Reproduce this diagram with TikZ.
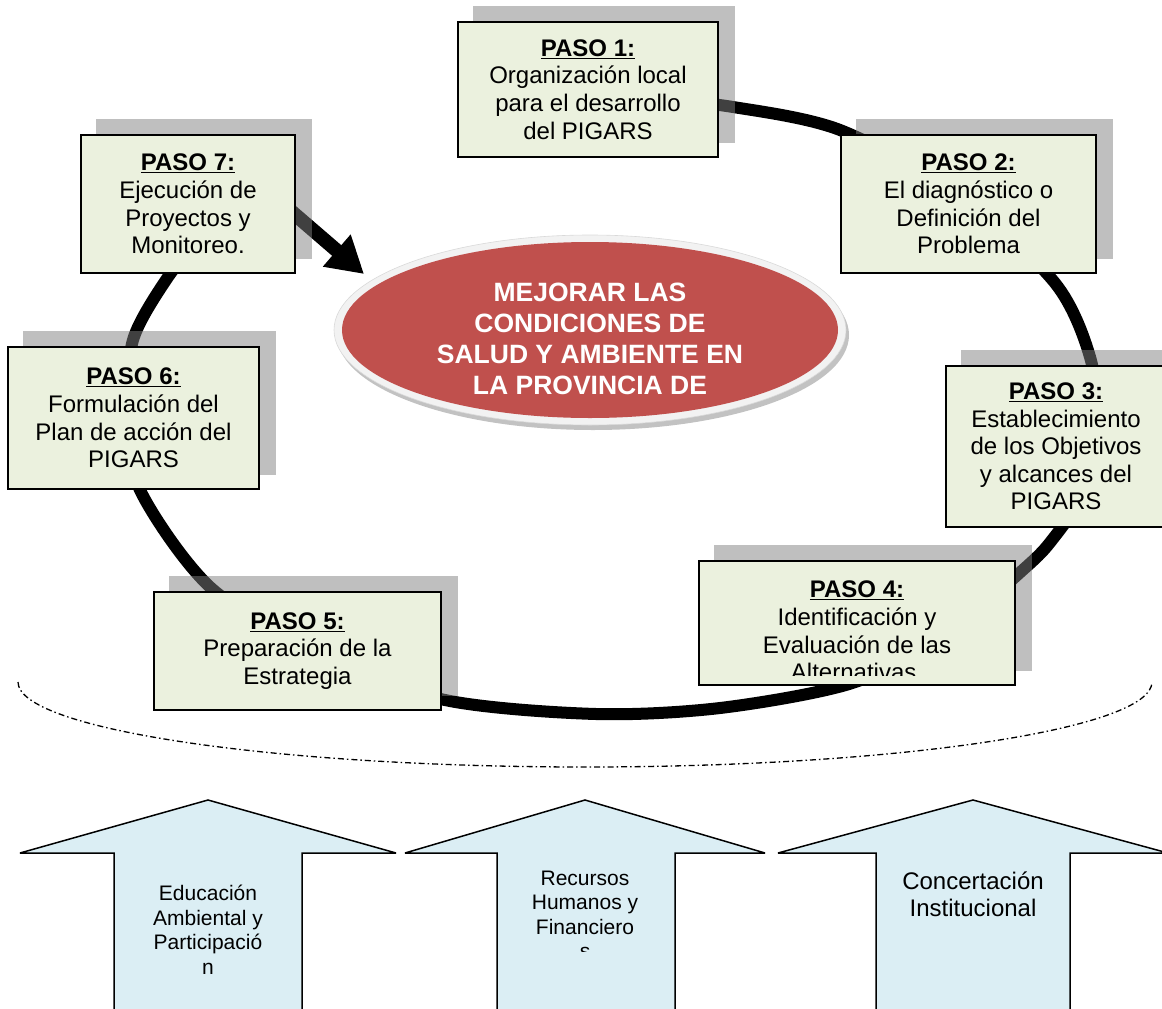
\documentclass[tikz,border=0pt]{standalone}
\usepackage{fontspec}
\setmainfont{Liberation Sans}
\usetikzlibrary{arrows.meta,shapes.geometric}

\definecolor{pasofill}{HTML}{EBF1DE}
\definecolor{metared}{HTML}{C0504D}
\definecolor{apoyofill}{HTML}{DBEEF4}

\pgfdeclarelayer{anillo}
\pgfdeclarelayer{sombras}
\pgfsetlayers{anillo,sombras,main}

\tikzset{
  paso/.style={draw, line width=1.6pt, fill=pasofill, align=center, inner sep=0pt,
    font=\fontsize{24}{27.6}\selectfont},
  sombra/.style={fill=black!50, opacity=0.5},
  anillo/.style={line width=12pt},
  flecha/.style={line width=14pt, -{Triangle[length=36pt,width=40pt]}},
  meta/.style={ellipse, fill=metared, inner sep=0pt, minimum width=496pt, minimum height=176pt},
  metatxt/.style={align=center, text=white, font=\bfseries\fontsize{26.5}{31}\selectfont},
  apoyo/.style={draw, line width=1.5pt, fill=apoyofill, line join=miter, miter limit=3},
  apoyotxt/.style={align=center, font=\fontsize{21}{24.5}\selectfont},
  punteado/.style={line width=1.3pt, dash pattern=on 6pt off 3pt on 1.5pt off 3pt},
}
\newcommand{\pasotit}[1]{\underline{\textbf{PASO #1:}}}
\newcommand{\sombrade}[1]{\fill[sombra] ([shift={(16,-15)}]#1.south west) rectangle ([shift={(16,-15)}]#1.north east);}

\begin{document}
\begin{tikzpicture}[x=1pt,y=-1pt]
\useasboundingbox (0,0) rectangle (1162,1009);

% pasos
\node[paso, minimum width=260pt, minimum height=135pt] (p1) at (588,89.5)
  {\pasotit{1}\\Organización local\\para el desarrollo\\del PIGARS};
\node[paso, minimum width=255pt, minimum height=138pt] (p2) at (968.5,204)
  {\pasotit{2}\\El diagnóstico o\\Definición del\\Problema};
\node[paso, minimum width=220pt, minimum height=161pt] (p3) at (1056,446.5)
  {\pasotit{3}\\Establecimiento\\de los Objetivos\\y alcances del\\PIGARS};
\node[paso, minimum width=316pt, minimum height=124pt] (p4) at (857,623) {};
\begin{scope}
  \clip (p4.north west) rectangle ([shift={(0,-10)}]p4.south east);
  \node[paso, draw=none, fill=none] (p4txt) at (857,631)
    {\pasotit{4}\\Identificación y\\Evaluación de las\\Alternativas.};
\end{scope}
\node[paso, minimum width=287pt, minimum height=118pt] (p5) at (297.5,651)
  {\pasotit{5}\\Preparación de la\\Estrategia};
\node[paso, minimum width=251pt, minimum height=142pt] (p6) at (133.5,418)
  {\pasotit{6}\\Formulación del\\Plan de acción del\\PIGARS};
\node[paso, minimum width=214pt, minimum height=138pt] (p7) at (188,204)
  {\pasotit{7}\\Ejecución de\\Proyectos y\\Monitoreo.};

% objetivo central
\fill[black!40, opacity=0.6] (593,335) ellipse[x radius=256, y radius=95];
\filldraw[fill=black!5, draw=black!15, line width=0.6pt] (590,330) ellipse[x radius=256, y radius=95];
\node[meta] (meta) at (590,330) {};
\node[metatxt] (metatxt) at (590,339)
  {MEJORAR LAS\\CONDICIONES DE\\SALUD Y AMBIENTE EN\\LA PROVINCIA DE};
\coordinate (punta) at (364,274);

\begin{pgfonlayer}{anillo}
  \draw[anillo] plot[smooth] coordinates {(560,100) (650,99) (733,107) (840,130)
    (960,195) (1055,283) (1090,357) (1098,430) (1082,495) (1052,540) (1025,568)
    (940,640) (849,684) (720,708) (596,714) (445,700) (320,655) (210,587)
    (140,490) (128,415) (133,340) (168,277) (210,225)};
  \draw[flecha] ([shift={(-20,-6)}]p7.east) -- (punta);
\end{pgfonlayer}
\begin{pgfonlayer}{sombras}
  \sombrade{p1} \sombrade{p2} \sombrade{p3} \sombrade{p4}
  \sombrade{p5} \sombrade{p6} \sombrade{p7}
\end{pgfonlayer}

\draw[punteado] (18,682) arc[start angle=180, end angle=0, x radius=567, y radius=85];

% apoyos
\draw[apoyo] (114,1020) -- (114,853) -- (20,853) -- (208,800) -- (396,853) -- (302,853) -- (302,1020) -- cycle;
\draw[apoyo] (497,1020) -- (497,853) -- (405,853) -- (585,800) -- (765,853) -- (675,853) -- (675,1020) -- cycle;
\draw[apoyo] (876,1020) -- (876,853) -- (778,853) -- (973,800) -- (1168,853) -- (1070,853) -- (1070,1020) -- cycle;
\node[apoyotxt] (a1) at (208,930) {Educación\\Ambiental y\\Participació\\n};
\begin{scope}
  \clip (497,860) rectangle (675,951);
  \node[apoyotxt] (a2) at (585,915) {Recursos\\Humanos y\\Financiero\\s};
\end{scope}
\node[apoyotxt, font=\fontsize{24}{27}\selectfont] (a3) at (973,894.5) {Concertación\\Institucional};
\end{tikzpicture}
\end{document}
